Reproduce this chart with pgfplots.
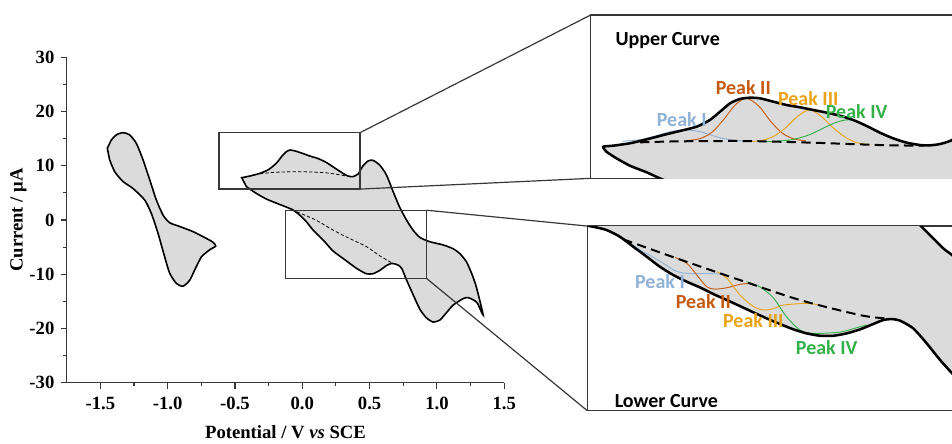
\documentclass[border=0pt]{standalone}
\usepackage{fontspec}
\setmainfont{Liberation Serif}
\newfontfamily\carl{Carlito}
\usepackage{pgfplots}
\pgfplotsset{compat=1.18}
\definecolor{fillg}{RGB}{219,219,219}
\definecolor{frm}{RGB}{55,55,55}
\definecolor{pkI}{RGB}{143,178,214}
\definecolor{pkII}{RGB}{197,90,17}
\definecolor{pkIII}{RGB}{232,163,23}
\definecolor{pkIV}{RGB}{52,176,72}
\begin{document}
\begin{tikzpicture}[x=1pt,y=1pt]
% ---------------- main axis ----------------
\begin{axis}[name=main, at={(50pt,45.2pt)}, anchor=south west,
  scale only axis, width=328.2pt, height=244.1pt,
  xmin=-1.75, xmax=1.5, ymin=-30, ymax=30,
  axis lines=left, axis line style={-, line width=0.8pt, frm},
  xtick={-1.5,-1,-0.5,0,0.5,1,1.5},
  xticklabels={-1.5,-1.0,-0.5,0.0,0.5,1.0,1.5},
  ytick={-30,-20,-10,0,10,20,30},
  yticklabels={-30,-20,-10,0,10,20,30},
  minor x tick num=1, minor y tick num=1,
  tick align=outside, major tick length=4.5pt, minor tick length=2.5pt,
  tick style={frm, line width=0.8pt},
  ticklabel style={font=\fontsize{14}{14}\selectfont\bfseries},
  xticklabel style={yshift=-2.5pt},
  yticklabel style={xshift=-1.2pt},
  xlabel={Potential / V \textit{vs} SCE},
  ylabel={Current / μA},
  label style={font=\fontsize{14}{14}\selectfont\bfseries},
  xlabel style={at={(axis description cs:0.5,-0.153)}, anchor=center},
  ylabel style={at={(axis description cs:-0.110,0.5)}, anchor=center},
  clip=false]
\addplot[fill=fillg, draw=black, line width=1.2pt, smooth, tension=0.4] coordinates {
(-1.448,13.2) (-1.418,14.75) (-1.381,15.7) (-1.332,16.1) (-1.282,15.7) (-1.232,14.1)
(-1.183,11.1) (-1.133,7.4) (-1.084,3.7) (-1.034,0.9) (-0.985,-0.5) (-0.910,-1.2)
(-0.811,-2.15) (-0.712,-3.4) (-0.663,-4.1) (-0.643,-4.8) (-0.688,-5.5) (-0.749,-6.8)
(-0.799,-9.2) (-0.836,-11.1) (-0.886,-12.2) (-0.935,-11.7) (-0.985,-9.8) (-1.022,-6.8)
(-1.071,-2.5) (-1.121,1.2) (-1.171,3.7) (-1.257,5.8) (-1.332,7.1) (-1.393,8.9) (-1.431,11.1)
} -- cycle;
\addplot[fill=fillg, draw=black, line width=1.2pt, smooth, tension=0.4] coordinates {
(-0.450,7.8) (-0.390,8.1) (-0.315,8.6) (-0.250,9.3) (-0.192,10.5) (-0.150,11.8)
(-0.118,12.6) (-0.090,12.9) (-0.050,12.7) (0.000,12.3) (0.055,11.8) (0.120,11.3)
(0.179,10.6) (0.240,9.6) (0.302,8.6) (0.340,8.1) (0.377,8.0) (0.415,8.5) (0.451,10.0)
(0.490,10.9) (0.525,11.0) (0.576,10.1) (0.625,8.3) (0.675,5.2) (0.724,2.3) (0.774,0.0)
(0.822,-1.85) (0.873,-3.2) (0.946,-4.0) (1.047,-4.6) (1.120,-5.3) (1.170,-6.2)
(1.219,-7.7) (1.260,-10.0) (1.293,-12.4) (1.343,-17.5) (1.300,-15.3) (1.268,-14.7)
(1.230,-14.3) (1.194,-14.5) (1.120,-15.7) (1.060,-17.4) (1.021,-18.45) (0.971,-18.8)
(0.920,-18.0) (0.872,-16.4) (0.820,-13.6) (0.773,-11.0) (0.740,-9.0) (0.711,-8.3)
(0.665,-8.0) (0.625,-8.4) (0.575,-9.3) (0.525,-9.9) (0.475,-9.9) (0.402,-8.9)
(0.320,-7.4) (0.228,-5.7) (0.155,-3.7) (0.080,-1.85) (0.030,-0.3) (-0.019,0.9)
(-0.069,1.85) (-0.130,2.5) (-0.192,3.1) (-0.270,3.9) (-0.341,4.9) (-0.415,6.15)
} -- cycle;
\addplot[black, line width=0.6pt, dash pattern=on 2.5pt off 1.6pt, smooth] coordinates {
(-0.315,8.5) (-0.2,8.8) (-0.019,8.9) (0.15,8.75) (0.25,8.45) (0.327,8.1)};
\addplot[black, line width=0.6pt, dash pattern=on 2.5pt off 1.6pt, smooth] coordinates {
(-0.04,1.5) (0.1,0.0) (0.228,-1.85) (0.35,-3.4) (0.476,-4.9) (0.575,-6.6) (0.665,-7.9)};
\draw[frm, line width=0.9pt] (axis cs:-0.619,5.7) rectangle (axis cs:0.429,16.1);
\draw[frm, line width=0.9pt] (axis cs:-0.123,-10.8) rectangle (axis cs:0.924,1.8);
\coordinate (u1) at (axis cs:0.429,16.1);
\coordinate (u2) at (axis cs:0.429,5.7);
\coordinate (l1) at (axis cs:0.924,1.8);
\coordinate (l2) at (axis cs:0.924,-10.8);
\end{axis}
% ---------------- upper inset ----------------
\begin{axis}[name=ins1, at={(443.0pt,198.5pt)}, anchor=south west,
  scale only axis, width=278.5pt, height=122.5pt,
  xmin=-0.4815, xmax=0.4705, ymin=4.402, ymax=21.96,
  xtick=\empty, ytick=\empty, axis line style={frm, line width=0.9pt}]
\addplot[fill=fillg, draw=none, smooth, tension=0.4] coordinates {
(-0.449,7.80) (-0.424,7.91) (-0.381,8.17) (-0.338,8.59) (-0.295,9.06) (-0.253,9.49)
(-0.210,9.95) (-0.176,10.67) (-0.150,11.56) (-0.124,12.47) (-0.099,12.93) (-0.073,13.07)
(-0.047,13.00) (-0.013,12.64) (0.021,12.28) (0.055,12.04) (0.089,11.75) (0.124,11.46)
(0.158,11.13) (0.192,10.67) (0.226,10.03) (0.260,9.31) (0.294,8.70) (0.329,8.23)
(0.363,7.98) (0.388,7.95) (0.414,8.09) (0.445,8.52) (0.47,9.6) (0.5,11)
(0.55,11) (0.55,2) (-0.25,2) (-0.253,3.5) (-0.304,4.40) (-0.338,5.05) (-0.381,5.76)
(-0.415,6.55) (-0.441,7.26)} -- cycle;
\addplot[pkI, line width=0.7pt, smooth] coordinates {
(-0.40,8.39) (-0.36,8.53) (-0.32,8.9) (-0.28,9.4) (-0.24,9.62) (-0.20,9.4) (-0.16,8.88)
(-0.12,8.53) (-0.08,8.39)};
\addplot[pkII, line width=0.7pt, smooth] coordinates {
(-0.235,8.44) (-0.20,8.69) (-0.17,9.37) (-0.14,10.75) (-0.11,12.33) (-0.082,13.0)
(-0.05,12.15) (-0.02,10.53) (0.01,9.25) (0.04,8.63) (0.07,8.44)};
\addplot[pkIII, line width=0.7pt, smooth] coordinates {
(-0.07,8.35) (-0.04,8.5) (-0.01,8.97) (0.02,9.9) (0.05,11.1) (0.08,11.75) (0.11,11.05)
(0.14,9.85) (0.17,8.85) (0.20,8.25) (0.235,8.0)};
\addplot[pkIV, line width=0.7pt, smooth] coordinates {
(-0.04,8.33) (0.0,8.4) (0.04,8.6) (0.08,9.1) (0.12,9.9) (0.15,10.45) (0.18,10.7)
(0.21,10.4) (0.24,9.8) (0.27,9.15) (0.30,8.6) (0.33,8.25) (0.36,8.05)};
\addplot[black, line width=1.5pt, dash pattern=on 7pt off 4pt, smooth] coordinates {
(-0.355,8.27) (-0.253,8.38) (-0.082,8.41) (0.089,8.23) (0.260,7.98) (0.371,7.91)};
\addplot[black, line width=1.9pt, smooth, tension=0.4] coordinates {
(-0.253,3.5) (-0.304,4.40) (-0.338,5.05) (-0.381,5.76) (-0.415,6.55) (-0.441,7.26)
(-0.449,7.80) (-0.424,7.91) (-0.381,8.17) (-0.338,8.59) (-0.295,9.06) (-0.253,9.49)
(-0.210,9.95) (-0.176,10.67) (-0.150,11.56) (-0.124,12.47) (-0.099,12.93) (-0.073,13.07)
(-0.047,13.00) (-0.013,12.64) (0.021,12.28) (0.055,12.04) (0.089,11.75) (0.124,11.46)
(0.158,11.13) (0.192,10.67) (0.226,10.03) (0.260,9.31) (0.294,8.70) (0.329,8.23)
(0.363,7.98) (0.388,7.95) (0.414,8.09) (0.445,8.52) (0.47,9.6) (0.5,11)};
\node[anchor=west, font=\carl\bfseries\fontsize{15}{15}\selectfont] at (axis cs:-0.4295,19.27) {Upper Curve};
\node[pkI, font=\carl\bfseries\fontsize{15}{15}\selectfont] at (axis cs:-0.248,10.75) {Peak I};
\node[pkII, font=\carl\bfseries\fontsize{15}{15}\selectfont] at (axis cs:-0.090,14.19) {Peak II};
\node[pkIII, font=\carl\bfseries\fontsize{15}{15}\selectfont] at (axis cs:0.0764,13.0) {Peak III};
\node[pkIV, font=\carl\bfseries\fontsize{15}{15}\selectfont] at (axis cs:0.2005,11.56) {Peak IV};
\end{axis}
% ---------------- lower inset ----------------
\begin{axis}[name=ins2, at={(440.5pt,24.2pt)}, anchor=south west,
  scale only axis, width=281.0pt, height=138.5pt,
  xmin=-0.1235, xmax=0.8497, ymin=-18.76, ymax=2.965,
  xtick=\empty, ytick=\empty, axis line style={frm, line width=0.9pt}]
\addplot[fill=fillg, draw=none, smooth, tension=0.4] coordinates {
(-0.16,3.3) (-0.108,2.88) (-0.073,2.49) (-0.039,1.71) (-0.004,0.53) (0.031,-0.65)
(0.065,-1.82) (0.100,-2.80) (0.135,-3.59) (0.169,-4.25) (0.204,-5.04) (0.239,-5.74)
(0.273,-6.45) (0.308,-7.19) (0.342,-7.89) (0.377,-8.56) (0.412,-9.19) (0.446,-9.66)
(0.481,-9.94) (0.515,-9.94) (0.550,-9.66) (0.585,-9.19) (0.619,-8.56) (0.645,-8.09)
(0.667,-7.98) (0.689,-8.17) (0.723,-9.07) (0.758,-10.84) (0.793,-12.80) (0.824,-14.36)
(0.86,-16.0) (0.92,-16.0) (0.92,-1.8) (0.86,-1.8) (0.824,-0.45) (0.801,0.34)
(0.775,1.52) (0.745,2.88) (0.72,4.0) (-0.16,4.0)} -- cycle;
\addplot[pkI, line width=0.7pt, smooth] coordinates {
(-0.01,0.9) (0.013,0.14) (0.04,-0.5) (0.074,-1.42) (0.105,-2.3) (0.135,-2.6)
(0.195,-2.62) (0.225,-2.7)};
\addplot[pkII, line width=0.7pt, smooth] coordinates {
(0.104,-0.72) (0.135,-1.42) (0.161,-2.80) (0.187,-4.18) (0.208,-4.45) (0.239,-4.29)
(0.273,-3.89) (0.299,-3.78)};
\addplot[pkIII, line width=0.7pt, smooth] coordinates {
(0.213,-2.41) (0.239,-3.19) (0.273,-5.15) (0.308,-6.5) (0.334,-6.9) (0.36,-6.75)
(0.386,-6.33) (0.446,-6.13) (0.481,-6.33)};
\addplot[pkIV, line width=0.7pt, smooth] coordinates {
(0.290,-3.59) (0.325,-4.2) (0.360,-5.5) (0.394,-7.71) (0.429,-9.27) (0.464,-9.66)
(0.533,-9.5) (0.585,-8.88) (0.602,-8.68)};
\addplot[black, line width=1.5pt, dash pattern=on 7pt off 4pt, smooth] coordinates {
(-0.030,1.40) (0.109,-0.84) (0.273,-3.39) (0.429,-5.74) (0.585,-7.51) (0.650,-7.89)};
\addplot[black, line width=1.9pt, smooth, tension=0.4] coordinates {
(-0.16,3.3) (-0.108,2.88) (-0.073,2.49) (-0.039,1.71) (-0.004,0.53) (0.031,-0.65)
(0.065,-1.82) (0.100,-2.80) (0.135,-3.59) (0.169,-4.25) (0.204,-5.04) (0.239,-5.74)
(0.273,-6.45) (0.308,-7.19) (0.342,-7.89) (0.377,-8.56) (0.412,-9.19) (0.446,-9.66)
(0.481,-9.94) (0.515,-9.94) (0.550,-9.66) (0.585,-9.19) (0.619,-8.56) (0.645,-8.09)
(0.667,-7.98) (0.689,-8.17) (0.723,-9.07) (0.758,-10.84) (0.793,-12.80) (0.824,-14.36)
(0.86,-16.0)};
\addplot[black, line width=1.9pt, smooth, tension=0.4] coordinates {
(0.72,4.0) (0.745,2.88) (0.775,1.52) (0.801,0.34) (0.824,-0.45) (0.86,-1.8)};
\node[anchor=west, font=\carl\bfseries\fontsize{15}{15}\selectfont] at (axis cs:-0.0645,-17.59) {Lower Curve};
\node[pkI, font=\carl\bfseries\fontsize{15}{15}\selectfont] at (axis cs:0.0653,-3.51) {Peak I};
\node[pkII, font=\carl\bfseries\fontsize{15}{15}\selectfont] at (axis cs:0.1778,-5.86) {Peak II};
\node[pkIII, font=\carl\bfseries\fontsize{15}{15}\selectfont] at (axis cs:0.3077,-8.18) {Peak III};
\node[pkIV, font=\carl\bfseries\fontsize{15}{15}\selectfont] at (axis cs:0.4983,-11.31) {Peak IV};
\end{axis}
% ---------------- connectors ----------------
\draw[frm, line width=0.9pt] (u1) -- (ins1.north west);
\draw[frm, line width=0.9pt] (u2) -- (ins1.south west);
\draw[frm, line width=0.9pt] (l1) -- (ins2.north west);
\draw[frm, line width=0.9pt] (l2) -- (ins2.south west);
\pgfresetboundingbox
\path[use as bounding box] (0,0) rectangle (714pt,332.25pt);
\end{tikzpicture}
\end{document}
